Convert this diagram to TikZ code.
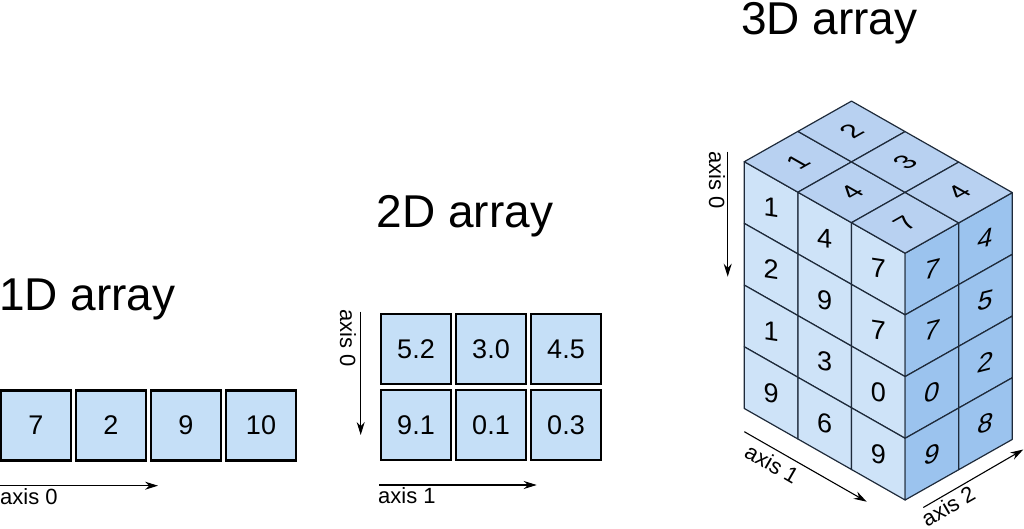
\documentclass[tikz,border=0pt]{standalone}
\usepackage{fontspec}
\setmainfont{Liberation Sans}
\usetikzlibrary{arrows.meta}

\definecolor{cellblue}{RGB}{197,223,247}
\definecolor{leftblue}{RGB}{206,227,248}
\definecolor{topblue}{RGB}{184,209,241}
\definecolor{rightblue}{RGB}{155,195,238}
\definecolor{edgeblue}{RGB}{30,42,58}

\begin{document}
\begin{tikzpicture}[x=1pt,y=-1pt]
\tikzstyle{cell}=[draw=black,line width=2.2pt,fill=cellblue,minimum size=70pt,inner sep=0pt,font=\fontsize{27}{30}\selectfont]
\tikzstyle{title}=[anchor=base west,inner sep=0pt,font=\fontsize{46}{50}\selectfont]
\tikzstyle{axislabel}=[anchor=base west,inner sep=0pt,font=\fontsize{22}{24}\selectfont]
\tikzstyle{axisarrow}=[line width=1.1pt,-{Stealth[length=13pt,width=8pt]}]
\tikzstyle{face}=[draw=edgeblue,line width=1.2pt,line join=round]
\tikzstyle{digit}=[inner sep=0pt,font=\fontsize{27}{30}\selectfont]
\useasboundingbox (0,0) rectangle (1024,529);

% 1D array
\node[title] (T_1) at (-1,310) {1D array};
\node[cell] (A_1) at (36,425.5)  {7};
\node[cell] (A_2) at (111,425.5) {2};
\node[cell] (A_3) at (186,425.5) {9};
\node[cell] (A_4) at (261,425.5) {10};
\coordinate (a0_s) at (0,485.7);
\coordinate (a0_e) at (158,485.7);
\draw[axisarrow] (a0_s) -- (a0_e);
\node[axislabel] (L_a0) at (0,504) {axis 0};

% 2D array
\node[title] (T_2) at (376.5,227) {2D array};
\node[cell] (B_{11}) at (416,349) {5.2};
\node[cell] (B_{12}) at (491,349) {3.0};
\node[cell] (B_{13}) at (566,349) {4.5};
\node[cell] (B_{21}) at (416,425) {9.1};
\node[cell] (B_{22}) at (491,425) {0.1};
\node[cell] (B_{23}) at (566,425) {0.3};
\coordinate (b0_s) at (360.7,311.7);
\coordinate (b0_e) at (360.7,435);
\coordinate (b1_s) at (379,485);
\coordinate (b1_e) at (536.7,485);
\draw[axisarrow] (b0_s) -- (b0_e);
\draw[axisarrow] (b1_s) -- (b1_e);
\node[axislabel,rotate=-90] (L_b0) at (340,309) {axis 0};
\node[axislabel] (L_b1) at (378,503.5) {axis 1};

% 3D array
\node[title] (T_3) at (741,35) {3D array};
\begin{scope}[shift={(744.3,161.7)},x={(53.6pt,-30.5pt)},y={(53.6pt,30.3pt)},z={(0pt,-61.7pt)}]
\foreach \i in {0,1,2}
  \foreach \k in {0,...,3}
    \draw[face,fill=leftblue] (\i,0,\k) -- (\i+1,0,\k) -- (\i+1,0,\k+1) -- (\i,0,\k+1) -- cycle;
\foreach \j in {0,1}
  \foreach \k in {0,...,3}
    \draw[face,fill=rightblue] (3,\j,\k) -- (3,\j+1,\k) -- (3,\j+1,\k+1) -- (3,\j,\k+1) -- cycle;
\foreach \i in {0,1,2}
  \foreach \j in {0,1}
    \draw[face,fill=topblue] (\i,\j,0) -- (\i+1,\j,0) -- (\i+1,\j+1,0) -- (\i,\j+1,0) -- cycle;
% values on the three faces
\foreach \i/\k/\v in {0/0/1,0/1/2,0/2/1,0/3/9,1/0/4,1/1/9,1/2/3,1/3/6,2/0/7,2/1/7,2/2/0,2/3/9}
  \node[digit,yslant=-0.15] (F_\i\k) at (\i+.5,0,\k+.5) {\v};
\foreach \j/\k/\v in {0/0/7,0/1/7,0/2/0,0/3/9,1/0/4,1/1/5,1/2/2,1/3/8}
  \node[digit,cm={1,0.25,0.2,1,(0,0)}] (S_\j\k) at (3,\j+.5,\k+.5) {\v};
\foreach \i/\j/\v in {0/0/1,0/1/2,1/0/4,1/1/3,2/0/7,2/1/4}
  \node[digit,cm={0.869,0.494,-0.869,0.494,(0,0)}] (U_\i\j) at (\i+.5,\j+.5,0) {\v};
\end{scope}
\coordinate (c0_s) at (727.7,151.7);
\coordinate (c0_e) at (727.7,276.7);
\coordinate (c1_s) at (744.3,431.7);
\coordinate (c1_e) at (866.7,501.7);
\coordinate (c2_s) at (923.3,507.5);
\coordinate (c2_e) at (1023.3,449.5);
\draw[axisarrow] (c0_s) -- (c0_e);
\draw[axisarrow] (c1_s) -- (c1_e);
\draw[axisarrow] (c2_s) -- (c2_e);
\node[axislabel,rotate=-90] (L_c0) at (709,151.5) {axis 0};
\node[axislabel,rotate=-30] (L_c1) at (743,456) {axis 1};
\node[axislabel,rotate=30] (L_c2) at (927,527.3) {axis 2};
\end{tikzpicture}
\end{document}
